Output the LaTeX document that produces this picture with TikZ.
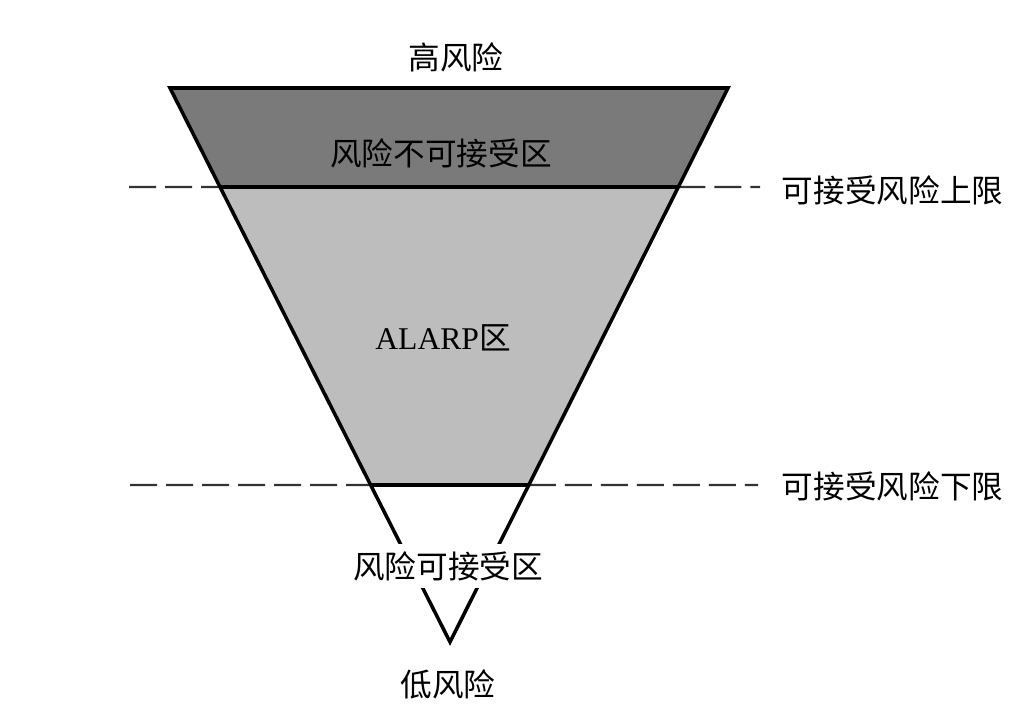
\documentclass[tikz,border=0pt]{standalone}
\usepackage{fontspec}
\setmainfont{Liberation Serif}
\newfontfamily\cjk{Noto Sans CJK SC}
\usetikzlibrary{calc}
\usetikzlibrary{positioning}

\begin{document}
\begin{tikzpicture}[
  x=0.2mm, y=-0.2mm,
  font=\fontsize{18}{22}\selectfont\cjk,
  edge/.style={line width=2pt, line join=miter},
  rim/.style={line width=2.2pt},
  limit/.style={line width=1.4pt, black!80, dash pattern=on 5.4mm off 1.8mm},
  label/.style={align=center, inner sep=2pt},
  cover/.style={label, fill=white, inner sep=4pt}
]
\useasboundingbox (0,0) rectangle (1028,720);

% Funnel corners
\coordinate (TL) at (170,88);
\coordinate (TR) at (728,88);
\coordinate (tip) at (450,642);

% Where the limits cross the funnel
\coordinate (UL) at ($(TL)!0.1787!(tip)$);
\coordinate (UR) at ($(TR)!0.1787!(tip)$);
\coordinate (LL) at ($(TL)!0.7166!(tip)$);
\coordinate (LR) at ($(TR)!0.7166!(tip)$);

% Free ends of the dashed limits
\coordinate (uW) at (129,187);
\coordinate (uE) at (760,187);
\coordinate (lW) at (130,485);
\coordinate (lE) at (758,485);

% Zones
\fill[black!52] (TL) -- (TR) -- (UR) -- (UL) -- cycle;
\fill[black!26] (UL) -- (UR) -- (LR) -- (LL) -- cycle;

% Limits
\draw[limit] (uW) -- (UL);
\draw[limit] (UR) -- (uE);
\draw[limit] (lW) -- (LL);
\draw[limit] (LR) -- (lE);

% Funnel outline
\draw[edge] (tip) -- (TL) -- (TR) -- cycle;
\draw[rim] (UL) -- (UR);
\draw[rim] (LL) -- (LR);

% Labels
\node[label] (high) at (456,57) {高风险};
\node[label] (unacc) at (441,153) {风险不可接受区};
\node[label, anchor=west] (upper) at (778,190) {可接受风险上限};
\node[label] (alarp) at (443,338) {{\rmfamily ALARP}区};
\node[label, anchor=west] (lower) at (778,486) {可接受风险下限};
\node[cover] (acc) at (448,566) {风险可接受区};
\node[label] (low) at (448,684) {低风险};

\end{tikzpicture}
\end{document}
